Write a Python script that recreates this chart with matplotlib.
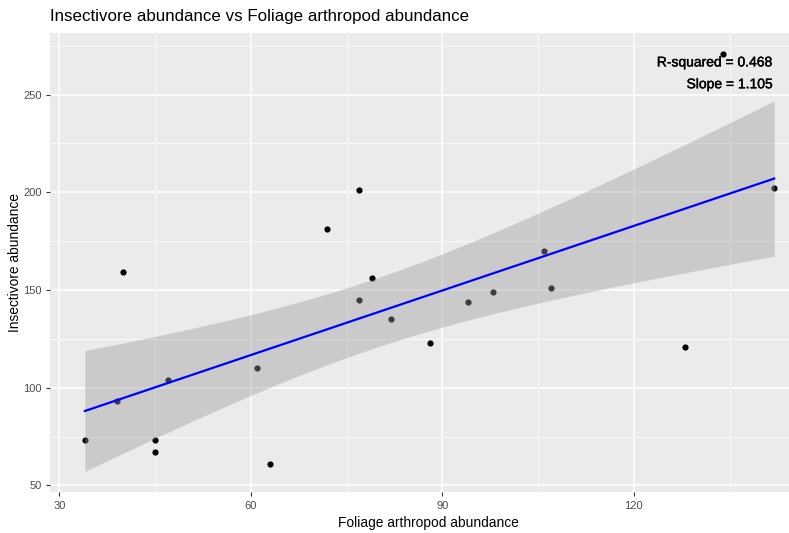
import numpy as np
import matplotlib
matplotlib.use("Agg")
import matplotlib.pyplot as plt
import matplotlib.patheffects as pe

plt.rcParams['font.family'] = ['Liberation Sans', 'DejaVu Sans']

# foliage arthropods (x) vs insectivores (y), one point per site
arthropods = [34, 39, 40, 45, 45, 47, 61, 63, 72, 77, 79, 77, 82, 88, 94, 98,
              106, 107, 128, 142, 134]
insectivores = [73, 93, 159, 73, 67, 104, 110, 61, 181, 201, 156, 145, 135, 123,
                144, 149, 170, 151, 121, 202, 271]

x_ticks = [30, 60, 90, 120]
y_ticks = [50, 100, 150, 200, 250]
stats_text = ["R-squared = 0.468", "Slope = 1.105"]

x = np.array(arthropods, dtype=float)
y = np.array(insectivores, dtype=float)
n = len(x)

# linear fit + 95% confidence band, like geom_smooth(method = "lm")
slope, intercept = np.polyfit(x, y, 1)
resid = y - (intercept + slope * x)
s = np.sqrt(np.sum(resid ** 2) / (n - 2))
sxx = np.sum((x - x.mean()) ** 2)
t_crit = 2.093  # t(0.975, df = 19)
xs = np.linspace(x.min(), x.max(), 80)
fit = intercept + slope * xs
half = t_crit * s * np.sqrt(1.0 / n + (xs - x.mean()) ** 2 / sxx)
lo, hi = fit - half, fit + half

fig = plt.figure(figsize=(7.89, 5.33), dpi=100)
W, H = 789.0, 533.0
# panel runs a little past the right edge
left, right, top, bottom = 50.4, 808.7, 32.7, 492.3
ax = fig.add_axes([left / W, 1 - bottom / H, (right - left) / W, (bottom - top) / H])
ax.set_facecolor('#EBEBEB')
for sp in ax.spines.values():
    sp.set_visible(False)

def expand(lo_, hi_, f=0.05):
    d = hi_ - lo_
    return lo_ - d * f, hi_ + d * f

ax.set_xlim(*expand(x.min(), x.max()))
ax.set_ylim(*expand(min(y.min(), lo.min()), max(y.max(), hi.max())))

ax.set_xticks(x_ticks)
ax.set_yticks(y_ticks)
ax.set_xticks([45, 75, 105, 135], minor=True)
ax.set_yticks([75, 125, 175, 225, 275], minor=True)
ax.grid(which='major', color='white', linewidth=1.1)
ax.grid(which='minor', color='white', linewidth=0.55)
ax.set_axisbelow(True)
ax.tick_params(which='major', length=3, width=0.8, color='#333333',
               labelsize=8, labelcolor='#4D4D4D', pad=3)
ax.tick_params(which='minor', length=0)

ax.scatter(x, y, s=20, color='black', zorder=2, linewidths=0)
ax.fill_between(xs, lo, hi, color='#999999', alpha=0.4, linewidth=0, zorder=3)
ax.plot(xs, fit, color='blue', linewidth=1.6, zorder=4)

heavy = [pe.withStroke(linewidth=0.3, foreground='black')]
ax.text(141.7, 266.5, stats_text[0], ha='right', va='center', fontsize=10,
        color='black', path_effects=heavy, zorder=5)
ax.text(141.7, 255.3, stats_text[1], ha='right', va='center', fontsize=10,
        color='black', path_effects=heavy, zorder=5)

fig.text(left / W, 1 - 17 / H, "Insectivore abundance vs Foliage arthropod abundance",
         fontsize=12.2, ha='left', va='center')
fig.text(428 / W, 1 - 523 / H, "Foliage arthropod abundance", fontsize=9.9,
         ha='center', va='center')
fig.text(15 / W, 1 - 262.5 / H, "Insectivore abundance", fontsize=9.9,
         ha='center', va='center', rotation=90)

fig.savefig('out.png', dpi=100, facecolor='white')
